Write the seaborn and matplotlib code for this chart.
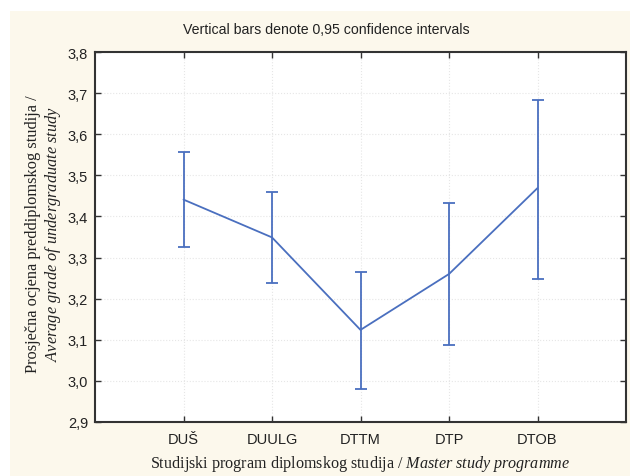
import numpy as np
import matplotlib
matplotlib.use('Agg')
import matplotlib.pyplot as plt
import seaborn as sns
from matplotlib.patches import Rectangle

# values
programmes = ['DUŠ', 'DUULG', 'DTTM', 'DTP', 'DTOB']
means = [3.441, 3.349, 3.124, 3.260, 3.469]
ci_low = [3.326, 3.237, 2.980, 3.088, 3.249]
ci_high = [3.556, 3.460, 3.265, 3.432, 3.684]
yticks = [2.9, 3.0, 3.1, 3.2, 3.3, 3.4, 3.5, 3.6, 3.7, 3.8]

blue = '#4a6fbf'
cream = '#fcf8ec'

sns.set_style('white')
plt.rcParams['font.family'] = ['Liberation Sans', 'DejaVu Sans']
plt.rcParams['mathtext.fontset'] = 'custom'
plt.rcParams['mathtext.rm'] = 'Liberation Serif'
plt.rcParams['mathtext.it'] = 'Liberation Serif:italic'

fig = plt.figure(figsize=(6.3, 4.77), dpi=100)
fig.patch.set_facecolor('white')
fig.patches.append(Rectangle((10 / 630, 0), 1, (477 - 12) / 477,
                             transform=fig.transFigure, facecolor=cream,
                             edgecolor='none', zorder=-10))

ax = fig.add_axes([95 / 630, 1 - 423 / 477, (626 - 95) / 630, (423 - 53) / 477])
ax.set_facecolor('white')

xpos = np.arange(len(programmes))
means_arr = np.array(means)
yerr = np.vstack([means_arr - np.array(ci_low), np.array(ci_high) - means_arr])

sns.lineplot(x=xpos, y=means, ax=ax, color=blue, linewidth=1.3, sort=False)
ax.errorbar(xpos, means, yerr=yerr, fmt='none', ecolor=blue, elinewidth=1.3,
            capsize=4, capthick=1.3)

ax.set_xlim(-1, 5)
ax.set_ylim(2.9, 3.8)
ax.set_xticks(xpos)
ax.set_xticklabels(programmes, fontsize=10.5, color='#222222')
ax.set_yticks(yticks)
ax.set_yticklabels([f'{v:.1f}'.replace('.', ',') for v in yticks],
                   fontsize=10.5, color='#222222')
ax.tick_params(direction='in', length=4, width=1, color='#333333',
               top=True, right=True, left=True, bottom=True)
ax.tick_params(axis='x', pad=7)
ax.tick_params(axis='y', pad=5)
ax.grid(True, linestyle=':', color='#e6e6e6', linewidth=0.8)
for s in ax.spines.values():
    s.set_color('#333333')
    s.set_linewidth(1.5)

fig.text(326 / 630, 1 - 30 / 477, 'Vertical bars denote 0,95 confidence intervals',
         ha='center', va='center', fontsize=10.2, color='#222222')

fig.text(360 / 630, 1 - 464 / 477,
         r'Studijski program diplomskog studija / $\it{Master\ study\ programme}$',
         ha='center', va='center', fontsize=11.6, family='Liberation Serif',
         color='#222222')

fig.text(44 / 630, 1 - 234 / 477,
         'Prosječna ocjena preddiplomskog studija /\n'
         r'$\it{Average\ grade\ of\ undergraduate\ study}$',
         ha='center', va='center', rotation=90, fontsize=11.8,
         family='Liberation Serif', linespacing=1.1, color='#222222')

fig.savefig('out.png', dpi=100)
